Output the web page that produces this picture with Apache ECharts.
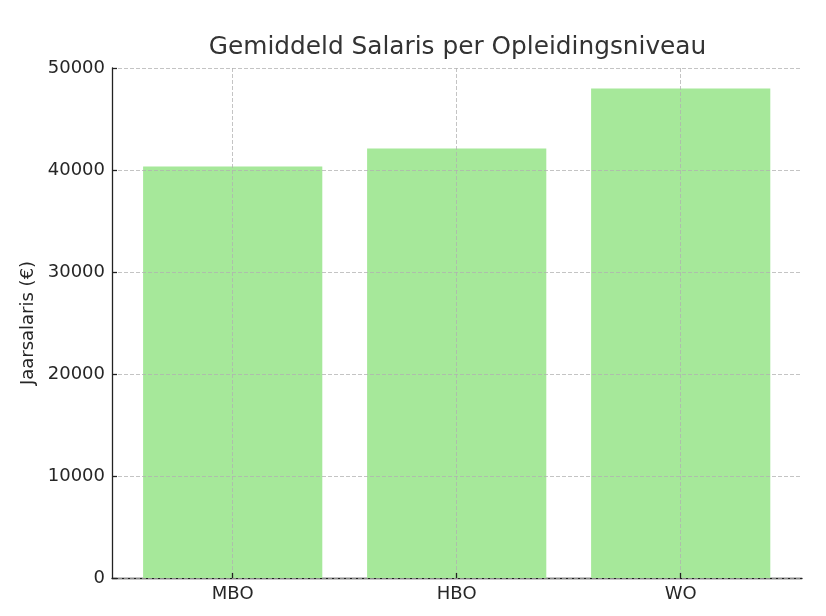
<!DOCTYPE html>
<html>
<head>
<meta charset="utf-8">
<script src="https://cdn.jsdelivr.net/npm/echarts@6/dist/echarts.min.js"></script>
<style>
html,body{margin:0;padding:0;background:#fff;}
#chart{width:826px;height:616px;}
</style>
</head>
<body>
<div id="chart"></div>
<script>
const categories = ["MBO", "HBO", "WO"];
const salaries = [40350, 42100, 48000];
const yTicks = { min: 0, max: 50000, interval: 10000 };
const titleText = "Gemiddeld Salaris per Opleidingsniveau";
const yAxisName = "Jaarsalaris (€)";

const FONT = "DejaVu Sans";
const TXT = "#262626";
const gridLine = { show: true, lineStyle: { color: "rgba(176,176,176,0.75)", width: 1, type: [4, 2] } };

const chart = echarts.init(document.getElementById("chart"), null, { renderer: "canvas" });
chart.setOption({
  backgroundColor: "#ffffff",
  animation: false,
  title: {
    text: titleText,
    left: 452.5, top: 30,
    textAlign: "center",
    textStyle: { fontFamily: FONT, fontSize: 24.8, fontWeight: "normal", color: "#333333" }
  },
  grid: [
    { left: 112, right: 24, top: 68, bottom: 38 },
    { left: 232.7, right: 145.3, top: 68, bottom: 38 }
  ],
  xAxis: [
    {
      gridIndex: 0, type: "value", min: 0, max: 1,
      axisLine: { show: true, onZero: false, lineStyle: { color: "#222", width: 1.3 } },
      axisTick: { show: false }, axisLabel: { show: false }, splitLine: { show: false }
    },
    {
      gridIndex: 1, type: "category", data: categories, boundaryGap: false, z: 3,
      axisLine: { show: false },
      axisTick: { show: true, inside: true, length: 5, lineStyle: { color: "#222", width: 1.3 } },
      axisLabel: { margin: 7, fontFamily: FONT, fontSize: 18, color: TXT },
      splitLine: gridLine
    }
  ],
  yAxis: [
    {
      gridIndex: 0, type: "value", min: yTicks.min, max: yTicks.max, interval: yTicks.interval, z: 3,
      name: yAxisName, nameLocation: "middle", nameGap: 66,
      nameTextStyle: { fontFamily: FONT, fontSize: 18, color: TXT },
      axisLine: { show: true, lineStyle: { color: "#222", width: 1.3 } },
      axisTick: { show: true, inside: true, length: 5, lineStyle: { color: "#222", width: 1.3 } },
      axisLabel: { margin: 7, fontFamily: FONT, fontSize: 18, color: TXT, formatter: v => String(v) },
      splitLine: gridLine
    },
    {
      gridIndex: 1, type: "value", min: yTicks.min, max: yTicks.max, interval: yTicks.interval, show: false,
      splitLine: { show: false }
    }
  ],
  series: [{
    type: "bar", xAxisIndex: 1, yAxisIndex: 1,
    data: salaries, barWidth: "80%", clip: false, z: 1,
    itemStyle: { color: "#a6e89a" }
  }]
});
</script>
</body>
</html>
